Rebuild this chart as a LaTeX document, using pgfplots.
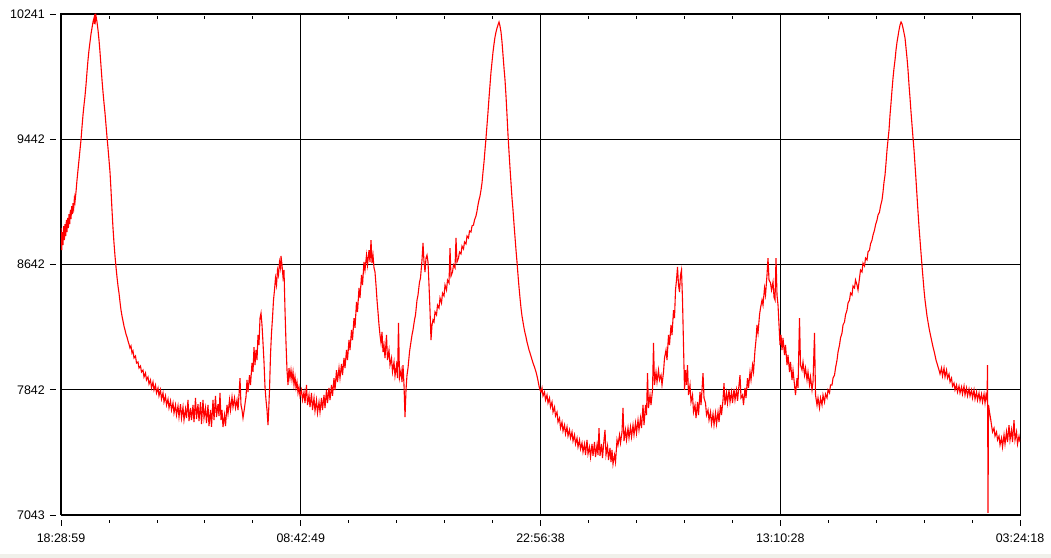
\documentclass[border=0pt]{standalone}
\usepackage{pgfplots}
\pgfplotsset{compat=1.18}
\usepackage{fontspec}
\setmainfont{Liberation Sans}
\begin{document}
\begin{tikzpicture}[x=1bp,y=1bp]
\path[use as bounding box] (-61,-43) rectangle (990,515);
\fill[color={rgb,255:red,240;green,240;blue,234}] (-61,-43) rectangle (990,-39);
\begin{axis}[
  at={(0,0)}, anchor=south west,
  width=959bp, height=501bp, scale only axis,
  xmin=61, xmax=1020, ymin=7043, ymax=10241,
  axis line style={black, line width=1bp},
  grid=major, major grid style={black, line width=0.9bp},
  xtick={61,300.75,540.5,780.25,1020},
  xticklabels={18:28:59,08:42:49,22:56:38,13:10:28,03:24:18},
  ytick={7043,7842,8642,9442,10241},
  yticklabels={7043,7842,8642,9442,10241},
  minor x tick num=4, minor y tick num=4,
  tick align=outside,
  major tick length=6bp, minor tick length=3bp,
  xtick style={black, line width=0.8bp, yshift=-5bp},
  ytick style={black, line width=0.8bp, xshift=-5bp},
  tick label style={font=\fontsize{12.5}{14}\selectfont, text=black, inner sep=1bp},
  xticklabel style={yshift=-12bp},
  yticklabel style={xshift=-9bp},
  clip=true,
]
\addplot[color={rgb,255:red,255;green,0;blue,0}, line width=1.1bp, line join=miter] table[row sep=\\] {
x y\\
61 8875\\ 61.7 8734\\ 62.4 8849\\ 63 8766\\ 63.7 8887\\ 64.4 8798\\ 65 8900\\ 65.7 8824\\ 66.4 8926\\ 67 8849\\
67.7 8939\\ 68.4 8875\\ 69 8964\\ 69.7 8900\\ 70.4 8990\\ 71 8932\\ 71.7 9015\\ 72.4 8964\\ 73 9034\\ 73.7 9002\\
74.4 9066\\ 75 9041\\
76 9105\\ 77 9181\\ 78 9245\\ 79 9309\\ 80 9373\\ 81 9437\\ 82 9520\\ 83 9596\\ 84 9660\\ 85 9717\\
86 9788\\ 87 9871\\ 88 9947\\ 89 10011\\ 90 10062\\ 91 10113\\ 92 10151\\ 93 10190\\ 94 10215\\ 94.5 10177\\
95 10241\\ 95.5 10203\\ 96 10228\\ 97 10190\\ 98 10139\\ 99 10075\\ 100 9998\\ 101 9909\\ 102 9820\\ 103 9743\\
104 9673\\ 105 9609\\ 106 9532\\ 107 9456\\ 108 9386\\ 109 9309\\ 110 9232\\ 111 9117\\ 112 8990\\ 113 8875\\
114 8779\\ 115 8696\\ 116 8626\\ 117 8562\\ 118 8505\\ 119 8460\\ 120 8403\\ 121 8351\\ 122 8313\\ 123 8281\\
124 8249\\ 125 8224\\ 126 8198\\ 127 8179\\ 128 8154\\ 129 8134\\ 130 8109\\
131 8122\\ 132 8077\\ 133 8090\\ 134 8045\\ 135.5 8058\\ 136.5 8013\\ 138 8020\\ 139 7981\\ 140.5 7994\\ 141.5 7956\\
143 7968\\ 144 7924\\ 145.5 7949\\ 146.5 7905\\ 148 7924\\ 149 7879\\ 150.5 7905\\ 151.5 7854\\ 153 7892\\ 154 7841\\
155.5 7873\\ 156.5 7822\\ 158 7854\\ 159 7803\\ 160.5 7841\\ 161.5 7783\\ 163 7822\\ 164 7764\\ 165.5 7803\\ 166.5 7745\\
168 7783\\ 169 7726\\ 170.5 7771\\ 171.5 7713\\ 173 7758\\ 174 7694\\ 175.5 7745\\ 176.5 7681\\ 178 7739\\ 179 7668\\
180.5 7751\\ 181.5 7662\\ 183 7732\\ 184 7649\\ 185.5 7720\\ 186.5 7662\\ 188 7777\\ 189 7643\\ 190.5 7726\\ 191.5 7649\\
193 7745\\ 194 7636\\ 195.5 7790\\ 196.5 7656\\ 198 7751\\ 199 7643\\ 200.5 7764\\ 201.5 7624\\ 203 7777\\ 204 7662\\
205.5 7726\\ 206.5 7630\\ 208 7745\\ 209 7611\\ 210.5 7713\\ 211.5 7605\\ 213 7777\\ 214 7649\\ 215.5 7803\\ 216.5 7668\\
218 7751\\ 219 7675\\ 220 7822\\ 221 7649\\ 222 7713\\ 223 7605\\ 224.5 7681\\ 225.5 7611\\ 227 7745\\ 228 7688\\
229.5 7777\\ 230.5 7713\\ 232 7796\\ 233 7732\\ 234.5 7790\\ 235.5 7726\\ 237 7777\\ 238 7713\\ 239 7809\\ 240 7917\\
241 7745\\ 242 7713\\ 243 7662\\ 244.5 7726\\ 245.5 7777\\
246 7796\\ 247 7905\\ 248 7828\\ 249.5 7936\\ 250.5 7873\\ 252 8013\\ 253 7956\\ 254 8115\\ 255 8000\\ 256 8096\\
257 8032\\ 258 8192\\ 259 8128\\ 260 8300\\ 261 8332\\ 262 8256\\ 263 8141\\ 264 8020\\ 265 7860\\ 266 7777\\
267 7713\\ 268 7617\\ 268.5 7681\\ 269.5 7841\\ 270.5 8064\\ 271.5 8205\\ 272.5 8300\\ 273.5 8415\\ 274.5 8479\\ 275.5 8556\\
276.5 8511\\ 277.5 8607\\ 278.5 8575\\ 279.5 8658\\ 280.5 8620\\ 281 8696\\ 282 8639\\ 283 8562\\ 284 8607\\ 285 8351\\
286 8141\\ 287 7968\\ 288 7873\\ 289 7981\\ 290 7917\\ 291 7968\\ 292 7905\\ 293 7956\\ 294 7873\\ 295 7924\\
296 7854\\ 297 7892\\ 298 7822\\ 299 7860\\ 300 7803\\ 301.5 7841\\ 302.5 7777\\ 304 7828\\ 305 7758\\ 306.5 7873\\
307.5 7745\\ 309 7809\\ 310 7732\\ 311.5 7822\\ 312.5 7713\\ 314 7790\\ 315 7707\\ 316.5 7777\\ 317.5 7694\\ 319 7764\\
320 7700\\ 321.5 7790\\ 322.5 7713\\ 324 7809\\ 325 7726\\ 326.5 7841\\ 327.5 7758\\ 329 7854\\ 330 7777\\ 331.5 7873\\
332.5 7803\\ 334 7917\\ 335 7841\\ 336.5 7968\\ 337.5 7892\\ 339 7981\\ 340 7917\\ 341.5 8007\\ 342.5 7936\\ 344 8045\\
345 7981\\ 346.5 8096\\ 347.5 8032\\ 349 8160\\ 350 8096\\ 351.5 8224\\ 352.5 8160\\ 354 8300\\ 355 8237\\ 356.5 8403\\
357.5 8339\\ 359 8492\\ 360 8428\\ 361.5 8575\\ 362.5 8511\\ 364 8658\\ 365 8607\\ 366.5 8702\\ 367.5 8639\\ 369 8734\\
370 8658\\ 371 8798\\ 372 8651\\ 373 8702\\ 374 8620\\ 375 8594\\ 376 8511\\ 377 8415\\ 378 8339\\ 379 8256\\
380 8192\\ 381 8141\\ 382 8211\\ 383 8083\\
384 8128\\ 385 8045\\ 386.5 8192\\ 387.5 8032\\ 389 8096\\ 390 8000\\ 391.5 8045\\ 392.5 7956\\ 394 8020\\ 395 7930\\
396.5 8000\\ 397.5 7917\\ 398.5 8269\\ 399.5 7917\\ 401 7968\\ 402 7892\\ 403 8000\\ 404 7873\\ 405 7668\\ 406 7841\\
407 7936\\ 408 7981\\ 409.5 8083\\ 410.5 8128\\ 412 8192\\ 413 8224\\ 414.5 8288\\ 415.5 8320\\ 417 8415\\ 418 8447\\
419.5 8530\\ 420.5 8556\\ 422 8671\\ 423 8779\\ 424 8658\\ 425 8594\\ 426 8683\\ 427 8702\\ 428 8658\\ 429 8511\\
430 8351\\ 431 8160\\ 432 8256\\ 433 8288\\
434 8275\\ 435 8339\\ 436.5 8320\\ 437.5 8383\\ 439 8364\\ 440 8428\\ 441.5 8396\\ 442.5 8460\\ 444 8441\\ 445 8511\\
446.5 8479\\ 447.5 8543\\ 449 8524\\ 450 8747\\ 451 8568\\ 452.5 8594\\ 453.5 8639\\ 455 8620\\ 456 8811\\ 457 8658\\
458.5 8683\\ 459.5 8722\\ 461 8709\\ 462 8760\\ 463.5 8741\\ 464.5 8786\\ 466 8773\\ 467 8824\\ 468.5 8811\\ 469.5 8856\\
471 8849\\ 472 8888\\ 473.5 8894\\ 474.5 8926\\ 476 8952\\ 477 8983\\ 478 9022\\ 479 9054\\ 480 9079\\
481 9117\\ 482 9162\\ 483 9232\\ 484 9296\\ 485 9373\\ 486 9449\\ 487 9532\\ 488 9615\\ 489 9705\\ 490 9788\\
491 9871\\ 492 9934\\ 493 9998\\ 494 10049\\ 495 10094\\ 496 10126\\ 497 10151\\ 498 10171\\ 499 10190\\ 500 10164\\
501 10126\\ 502 10062\\ 503 9979\\ 504 9896\\ 505 9820\\ 506 9717\\ 507 9596\\ 508 9469\\ 509 9360\\ 510 9258\\
511 9162\\ 512 9066\\ 513 8990\\ 514 8900\\ 515 8817\\ 516 8734\\ 517 8658\\ 518 8575\\ 519 8498\\ 520 8428\\
521 8364\\ 522 8313\\ 523 8275\\ 524 8237\\ 525 8205\\ 526 8179\\ 527 8147\\ 528 8122\\ 529 8096\\ 530 8077\\
531.5 8045\\ 533 8013\\ 534.5 7987\\ 536 7956\\ 537.5 7917\\ 539 7866\\ 540 7841\\ 541 7828\\
542 7854\\ 543 7803\\ 544.5 7828\\ 545.5 7777\\ 547 7809\\ 548 7758\\ 549.5 7790\\ 550.5 7732\\ 552 7764\\ 553 7700\\
554.5 7732\\ 555.5 7675\\ 557 7700\\ 558 7636\\ 559.5 7662\\ 560.5 7598\\ 562 7636\\ 563 7579\\ 564.5 7617\\ 565.5 7560\\
567 7605\\ 568 7547\\ 569.5 7586\\ 570.5 7534\\ 572 7573\\ 573 7515\\ 574.5 7554\\ 575.5 7496\\ 577 7534\\ 578 7477\\
579.5 7522\\ 580.5 7464\\ 582 7503\\ 583 7445\\ 584.5 7496\\ 585.5 7426\\ 587 7522\\ 588 7432\\ 589.5 7477\\ 590.5 7413\\
592 7496\\ 593 7420\\ 594.5 7509\\ 595.5 7413\\ 597 7490\\ 598 7426\\ 599 7598\\ 600 7420\\ 601.5 7496\\ 602.5 7407\\
604 7522\\ 605 7586\\ 606 7426\\ 607.5 7483\\ 608.5 7394\\ 610 7471\\ 611 7381\\ 612 7458\\ 613 7368\\ 614.5 7426\\
615.5 7381\\ 617 7522\\ 618 7490\\ 619.5 7554\\ 620.5 7503\\ 622 7573\\ 623 7726\\ 624 7515\\ 625.5 7586\\ 626.5 7522\\
628 7598\\ 629 7534\\ 630.5 7605\\ 631.5 7541\\ 633 7617\\ 634 7554\\ 635.5 7630\\ 636.5 7566\\ 638 7649\\ 639 7586\\
640.5 7662\\ 641.5 7598\\ 643 7745\\ 644 7617\\ 645.5 7745\\ 646.5 7681\\ 647.5 7949\\ 648.5 7726\\ 650 7809\\ 651 7745\\
652.5 7841\\ 653.5 8141\\ 654.5 7873\\ 656 7956\\ 657 7892\\ 658.5 7968\\ 659.5 7905\\ 661 7936\\ 662 7873\\ 663.5 7956\\
664.5 8045\\ 666 8096\\ 667 8032\\ 668.5 8192\\ 669.5 8128\\ 671 8256\\ 672 8192\\ 673.5 8351\\ 674.5 8300\\ 675.5 8479\\
676.5 8543\\ 677.5 8626\\ 678.5 8511\\ 679.5 8466\\ 680.5 8575\\ 681.5 8607\\ 682.5 8415\\ 683.5 8128\\ 684.5 7841\\ 685.5 7968\\
686.5 7873\\ 687.5 8000\\ 688.5 7809\\ 690 7873\\ 691 7764\\ 692.5 7809\\ 693.5 7700\\ 695 7745\\ 696 7662\\ 697.5 7764\\
698.5 7681\\ 700 7828\\ 701 7745\\ 702 7841\\ 703 7949\\ 704 7790\\ 705.5 7758\\ 706.5 7681\\ 708 7713\\ 709 7649\\
710.5 7700\\ 711.5 7624\\ 713 7688\\ 714 7617\\ 715.5 7694\\ 716.5 7624\\ 718 7700\\ 719 7636\\ 720.5 7745\\ 721.5 7681\\
723 7777\\ 724 7885\\ 725 7745\\ 726.5 7822\\ 727.5 7758\\ 729 7841\\ 730 7764\\ 731.5 7828\\ 732.5 7758\\ 734 7847\\
735 7777\\ 736.5 7841\\ 737.5 7771\\ 739 7873\\ 740 7936\\ 741 7790\\ 742.5 7809\\ 743.5 7745\\ 745 7854\\ 746 7790\\
747.5 7917\\ 748.5 7854\\ 750 7956\\ 751 7905\\ 752.5 8000\\ 753.5 7956\\ 755 8096\\ 756 8160\\ 757 8256\\ 758 8205\\
759.5 8320\\ 760.5 8364\\ 762 8415\\ 763 8383\\ 764.5 8492\\ 765.5 8447\\ 767 8575\\ 768 8683\\ 769 8543\\ 770.5 8524\\
771.5 8479\\ 773 8530\\ 774 8434\\ 775 8415\\ 776 8683\\ 777 8447\\ 778 8383\\ 779 8256\\ 780 8128\\ 781 8192\\
782 8096\\ 783 8173\\ 784.5 8064\\ 785.5 8128\\ 787 8000\\ 788 8064\\ 789.5 7956\\ 790.5 8020\\ 792 7905\\ 793 7968\\
794.5 7873\\ 795.5 7809\\ 797 7917\\ 798 7854\\ 799.5 8300\\ 800.5 8000\\ 802 7968\\ 803 8020\\ 804.5 7936\\ 805.5 7981\\
807 7905\\ 808 7956\\ 809.5 7873\\ 810.5 7924\\ 812 7841\\ 813 7892\\ 814.5 8205\\ 815.5 7809\\ 817 7745\\ 818 7790\\
819.5 7726\\ 820.5 7790\\ 822 7745\\ 823 7809\\ 824.5 7764\\ 825.5 7815\\ 827 7790\\ 828 7841\\ 829.5 7822\\ 830.5 7873\\
832 7873\\ 833 7917\\ 834.5 7936\\ 835.5 7981\\ 837 8032\\ 838 8083\\ 839.5 8128\\ 840.5 8173\\ 842 8205\\ 843 8256\\
844.5 8275\\ 845.5 8320\\ 847 8351\\ 848 8396\\ 849.5 8415\\ 850.5 8460\\ 852 8447\\ 853 8505\\ 854.5 8492\\ 855.5 8543\\
857 8511\\ 858 8479\\ 859.5 8556\\ 860.5 8607\\ 862 8594\\ 863 8651\\ 864.5 8632\\ 865.5 8683\\ 867 8671\\ 868 8722\\
869.5 8734\\ 870.5 8773\\ 872 8798\\ 873 8830\\ 874.5 8862\\ 875.5 8894\\ 877 8926\\ 878 8958\\ 879.5 8977\\ 880.5 9015\\
882 9054\\ 883 9105\\ 884 9168\\ 885 9213\\ 886 9290\\ 887 9373\\ 888 9437\\ 889 9500\\ 890 9596\\ 891 9673\\
892 9756\\ 893 9832\\ 894 9896\\ 895 9947\\ 896 10011\\ 897 10062\\ 898 10100\\ 899 10139\\ 900 10171\\ 901 10190\\
902 10177\\ 903 10151\\ 904 10120\\ 905 10088\\ 906 10024\\ 907 9960\\ 908 9883\\ 909 9788\\ 910 9705\\ 911 9615\\
912 9532\\ 913 9449\\ 914 9373\\ 915 9277\\ 916 9181\\ 917 9079\\ 918 8977\\ 919 8881\\ 920 8798\\ 921 8715\\
922 8632\\ 923 8556\\ 924 8479\\ 925 8415\\ 926 8364\\ 927 8313\\ 928 8275\\ 929 8237\\ 930 8205\\ 931.5 8160\\
933 8115\\ 934.5 8077\\ 936 8032\\ 937.5 8000\\ 939 7968\\ 940 7943\\ 941.5 7981\\ 942.5 7930\\ 944 7981\\ 945 7924\\
946.5 7968\\ 947.5 7917\\ 949 7943\\ 950 7892\\ 951.5 7917\\ 952.5 7866\\ 954 7885\\ 955 7841\\ 956.5 7873\\ 957.5 7828\\
959 7866\\ 960 7822\\ 961.5 7860\\ 962.5 7815\\ 964 7866\\ 965 7809\\ 966.5 7854\\ 967.5 7803\\ 969 7847\\ 970 7803\\
971.5 7841\\ 972.5 7790\\ 974 7841\\ 975 7783\\ 976.5 7828\\ 977.5 7777\\ 979 7822\\ 980 7771\\ 981.5 7815\\ 982.5 7764\\
984 7815\\ 985 7758\\ 986 7809\\ 987 7777\\ 987.5 8000\\ 988 7056\\ 988.5 7745\\ 989.5 7700\\ 990.5 7662\\ 991.5 7617\\
992.5 7573\\ 994 7598\\ 995 7547\\ 996.5 7573\\ 997.5 7522\\ 999 7547\\ 1000 7490\\ 1001.5 7534\\ 1002.5 7477\\ 1004 7554\\
1005 7496\\ 1006.5 7573\\ 1007.5 7509\\ 1009 7617\\ 1010 7522\\ 1011.5 7586\\ 1012.5 7509\\ 1014 7649\\ 1015 7522\\ 1016.5 7573\\
1017.5 7496\\ 1019 7547\\ 1020 7509\\
};
\end{axis}
\end{tikzpicture}
\end{document}
